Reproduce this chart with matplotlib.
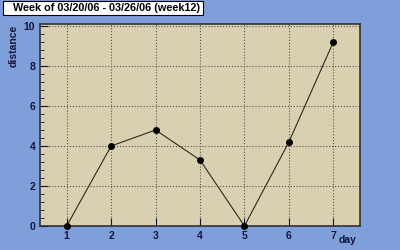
import matplotlib
matplotlib.use("Agg")
import matplotlib.pyplot as plt
from matplotlib.patches import Rectangle
from matplotlib.ticker import MultipleLocator

days = [1, 2, 3, 4, 5, 6, 7]
distance = [0, 4, 4.8, 3.3, 0, 4.2, 9.2]
title = "Week of 03/20/06 - 03/26/06 (week12)"

BG = "#7f9fdb"
PANEL = "#d8d0b0"
INK = "#15153a"
plt.rcParams["font.family"] = ["Liberation Sans", "DejaVu Sans"]

fig = plt.figure(figsize=(4, 2.5), dpi=100, facecolor=BG)
ax = fig.add_axes([0.1, 0.096, 0.8, 0.808], facecolor=PANEL)

ax.plot(days, distance, color="#2a2a20", lw=0.8, marker="o", ms=4,
        mfc="black", mec="black", clip_on=False, zorder=3)

ax.set_xlim(0.4, 7.6)
ax.set_ylim(0, 10.1)
ax.xaxis.set_major_locator(MultipleLocator(1))
ax.yaxis.set_major_locator(MultipleLocator(2))
ax.yaxis.set_minor_locator(MultipleLocator(0.4))
ax.grid(True, which="major", ls=":", color="#555555", lw=0.8)
ax.tick_params(which="both", direction="in", colors=INK, labelsize=7.5)
ax.tick_params(which="major", length=6)
ax.tick_params(which="minor", length=3)
ax.tick_params(axis="x", which="minor", length=0)
ax.tick_params(top=False, right=False)
for lab in ax.get_xticklabels() + ax.get_yticklabels():
    lab.set_fontweight("bold")
for s in ax.spines.values():
    s.set_color("#333333")
    s.set_linewidth(1.2)

fig.text(0.035, 0.9, "distance", rotation=90, ha="center", va="top",
         fontsize=7.5, fontweight="bold", color=INK)
fig.text(0.87, 0.04, "day", ha="center", va="center",
         fontsize=7.5, fontweight="bold", color=INK)

fig.patches.append(Rectangle((0.0075, 0.94), 0.5, 0.056, transform=fig.transFigure,
                             fc="white", ec="black", lw=0.8))
fig.text(0.0325, 0.968, title, ha="left", va="center", fontsize=7.8,
         fontweight="bold", color="black")

fig.savefig("out.png", dpi=100, facecolor=BG)
